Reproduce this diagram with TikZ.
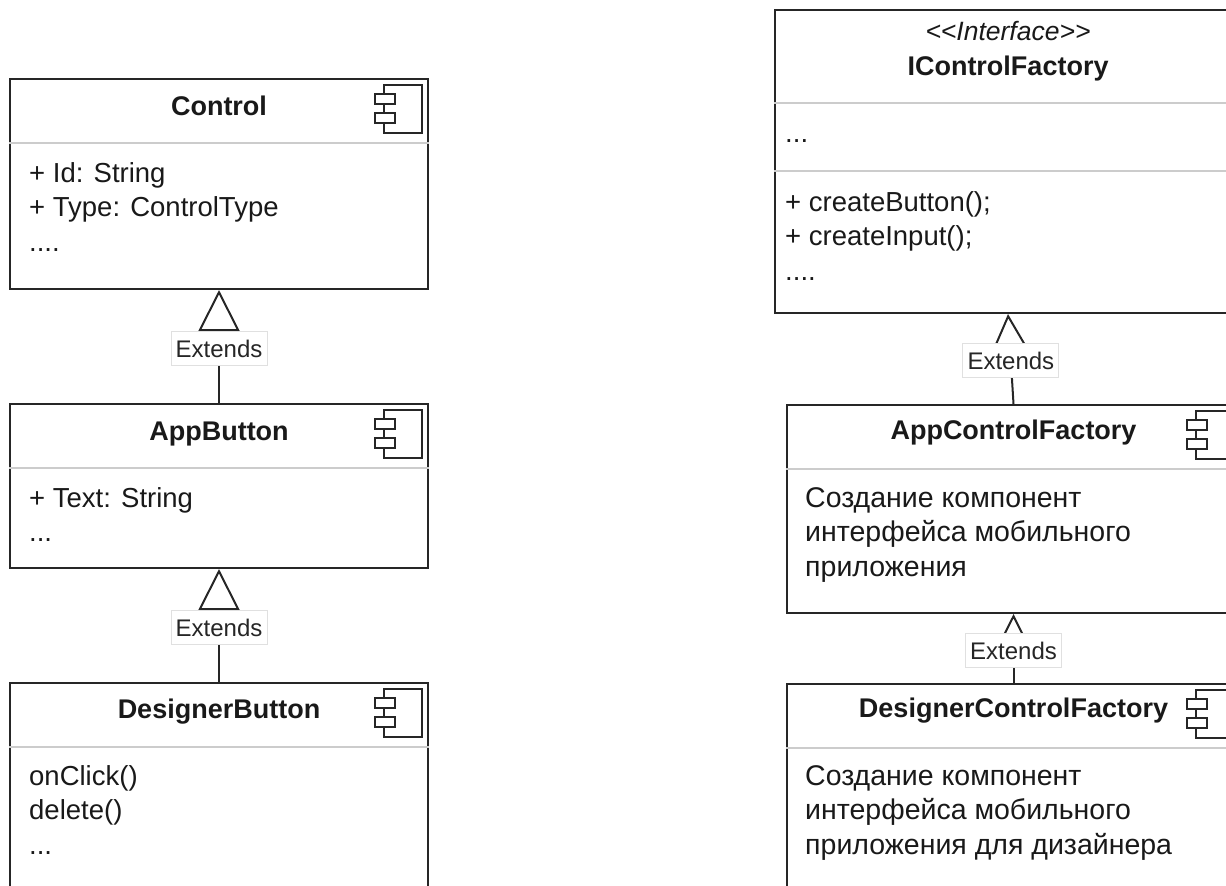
\documentclass[tikz,border=0pt]{standalone}
\usepackage{fontspec}
\setmainfont{Liberation Sans}
\usetikzlibrary{arrows.meta}

% small component icon in the top right corner of a box
\newcommand{\compicon}[1]{%
  \begin{scope}[shift={(#1.north east)},icon]
    \draw (-45,7) rectangle (-7,55);
    \draw[fill=white] (-54,16) rectangle (-34,26);
    \draw[fill=white] (-54,35) rectangle (-34,45);
  \end{scope}}

\begin{document}
\begin{tikzpicture}[x=1pt,y=-1pt,
  box/.style={draw=black!85,line width=2pt,fill=white,minimum width=418pt,anchor=north,inner sep=0pt},
  sep/.style={draw=black!20,line width=2.5pt},
  icon/.style={draw=black!85,line width=2pt},
  title/.style={font=\fontsize{27}{30}\bfseries\selectfont,anchor=base,text=black!90},
  body/.style={font=\fontsize{27.5}{34.5}\selectfont,align=left,anchor=north west,inner sep=0pt,text=black!90},
  ru/.style={body,font=\fontsize{28.5}{34.5}\selectfont},
  ext/.style={draw=black!85,line width=2pt,-{Triangle[open,length=41pt,width=41pt]}},
  lbl/.style={draw=black!12,line width=1pt,fill=white,font=\fontsize{24}{28}\selectfont,text=black!85,
    minimum width=96pt,minimum height=34pt,inner sep=0pt,pos=0.48}]
  \useasboundingbox (0,0) rectangle (1226,886);
  \clip (0,0) rectangle (1226,886);
  % left column
  \node[box,minimum height=210pt] (ctl) at (219,78) {};
  \node[box,minimum height=164pt] (ab) at (219,403) {};
  \node[box,minimum height=240pt] (db) at (219,682) {};
  % right column
  \node[box,minimum width=466pt,minimum height=303pt] (icf) at (1008,9) {};
  \node[box,minimum width=453pt,minimum height=208pt] (acf) at (1013.5,404) {};
  \node[box,minimum width=453pt,minimum height=240pt] (dcf) at (1013.5,683) {};
  % compartments
  \foreach \b in {ctl,ab,db,acf,dcf}
    \draw[sep] ([yshift=-65pt]\b.north west) -- ([yshift=-65pt]\b.north east);
  \draw[sep] ([yshift=-94pt]icf.north west) -- ([yshift=-94pt]icf.north east);
  \draw[sep] ([yshift=-162pt]icf.north west) -- ([yshift=-162pt]icf.north east);
  \foreach \b in {ctl,ab,db,acf,dcf} {\compicon{\b}}
  % names
  \node[title] (ctlT) at ([yshift=-37pt]ctl.north) {Control};
  \node[title] (abT) at ([yshift=-37pt]ab.north) {AppButton};
  \node[title] (dbT) at ([yshift=-36pt]db.north) {DesignerButton};
  \node[title,font=\fontsize{26.5}{30}\itshape\selectfont] (icfS) at ([yshift=-31pt]icf.north) {<\kern0pt<Interface>\kern0pt>};
  \node[title] (icfT) at ([yshift=-66pt]icf.north) {IControlFactory};
  \node[title] (acfT) at ([yshift=-35pt]acf.north) {AppControlFactory};
  \node[title] (dcfT) at ([yshift=-34pt]dcf.north) {DesignerControlFactory};
  % members
  \node[body] (ctlB) at ([xshift=20pt,yshift=-80pt]ctl.north west)
    {\strut+ Id: String\\\strut+ Type: ControlType\\\strut....};
  \node[body] (abB) at ([xshift=20pt,yshift=-80pt]ab.north west)
    {\strut+ Text: String\\\strut...};
  \node[body] (dbB) at ([xshift=20pt,yshift=-79pt]db.north west)
    {\strut onClick()\\\strut delete()\\\strut...};
  \node[body] (icfA) at ([xshift=11pt,yshift=-109pt]icf.north west) {\strut...};
  \node[body] (icfB) at ([xshift=11pt,yshift=-178pt]icf.north west)
    {\strut+ createButton();\\\strut+ createInput();\\\strut....};
  \node[ru] (acfB) at ([xshift=19pt,yshift=-79pt]acf.north west)
    {\strut Создание компонент\\\strut интерфейса мобильного\\\strut приложения};
  \node[ru] (dcfB) at ([xshift=19pt,yshift=-78pt]dcf.north west)
    {\strut Создание компонент\\\strut интерфейса мобильного\\\strut приложения для дизайнера};
  % generalisations
  \draw[ext] (ab.north) -- (ctl.south) node[lbl] (ext1) {Extends};
  \draw[ext] (db.north) -- (ab.south) node[lbl] (ext2) {Extends};
  \draw[ext] (acf.north) -- (icf.south) node[lbl] (ext3) {Extends};
  \draw[ext] (dcf.north) -- (acf.south) node[lbl,pos=0.465] (ext4) {Extends};
\end{tikzpicture}
\end{document}
